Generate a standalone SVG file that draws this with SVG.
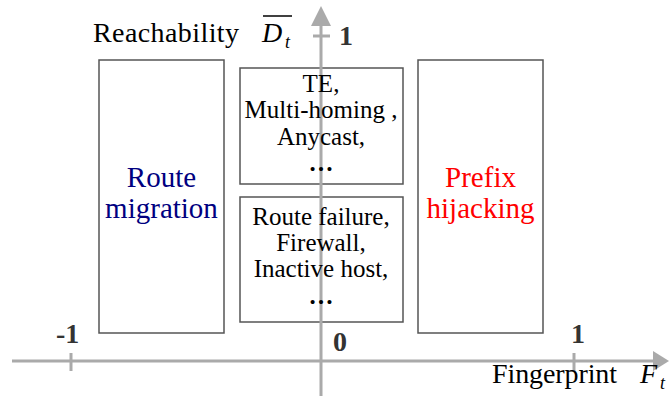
<svg xmlns="http://www.w3.org/2000/svg" width="672" height="403" viewBox="0 0 672 403">
<style>
text{font-family:'Liberation Serif','Times New Roman',Tinos,'DejaVu Serif',serif}
.t{font-size:25px;fill:#000;text-anchor:middle}
.dots{font-weight:bold}
.big{font-size:29px;text-anchor:middle}
.blue{fill:#000080}
.red{fill:#ff0000}
.lbl{font-size:28px;fill:#000}
.it{font-style:italic}
.sub{font-size:18px;font-style:italic}
.num{font-size:28px;font-weight:bold;fill:#333}
.box{fill:#fff;stroke:#555;stroke-width:1.5}
.ax{stroke:#aaa;stroke-width:3;fill:none}
</style>
<rect width="672" height="403" fill="#fff"/>
<g id="boxes">
<g id="route-migration">
<rect class="box" x="99" y="60" width="125" height="273"/>
<text class="big blue" x="161.5" y="187">Route</text>
<text class="big blue" x="161.5" y="218">migration</text>
</g>
<g id="prefix-hijacking">
<rect class="box" x="418" y="60" width="125" height="273"/>
<text class="big red" x="480.5" y="187">Prefix</text>
<text class="big red" x="480.5" y="218">hijacking</text>
</g>
<g id="te-box">
<rect class="box" x="240" y="68" width="163" height="116"/>
</g>
<g id="failure-box">
<rect class="box" x="240" y="197" width="163" height="125"/>
</g>
</g>
<g id="axes">
<line class="ax" x1="12" y1="361" x2="656" y2="361"/>
<polygon points="669,361 653,351 653,371" fill="#aaa"/>
<line class="ax" x1="321" y1="396" x2="321" y2="22"/>
<polygon points="321,6 311,26 331,26" fill="#aaa"/>
<line class="ax" x1="71" y1="353" x2="71" y2="371"/>
<line class="ax" x1="574" y1="353" x2="574" y2="371"/>
<line class="ax" x1="313" y1="36" x2="330" y2="36"/>
</g>
<g id="box-texts">
<text class="t" x="321" y="92">TE,</text>
<text class="t" x="321" y="118">Multi-homing ,</text>
<text class="t" x="321" y="145">Anycast,</text>
<text class="t dots" x="321" y="171">…</text>
<text class="t" x="321" y="225">Route failure,</text>
<text class="t" x="321" y="251">Firewall,</text>
<text class="t" x="321" y="277">Inactive host,</text>
<text class="t dots" x="321" y="304">…</text>
</g>
<g id="labels">
<text class="lbl" x="93" y="42" textLength="146">Reachability</text>
<text class="lbl it" x="262" y="42">D</text>
<line x1="263" y1="16" x2="292" y2="16" stroke="#000" stroke-width="1.5"/>
<text class="sub" x="285" y="48">t</text>
<text class="lbl" x="492" y="383" textLength="125">Fingerprint</text>
<text class="lbl it" x="640" y="383">F</text>
<text class="sub" x="660" y="389">t</text>
<text class="num" x="339" y="45">1</text>
<text class="num" x="56" y="343">-1</text>
<text class="num" x="333" y="351">0</text>
<text class="num" x="571" y="343">1</text>
</g>
</svg>
